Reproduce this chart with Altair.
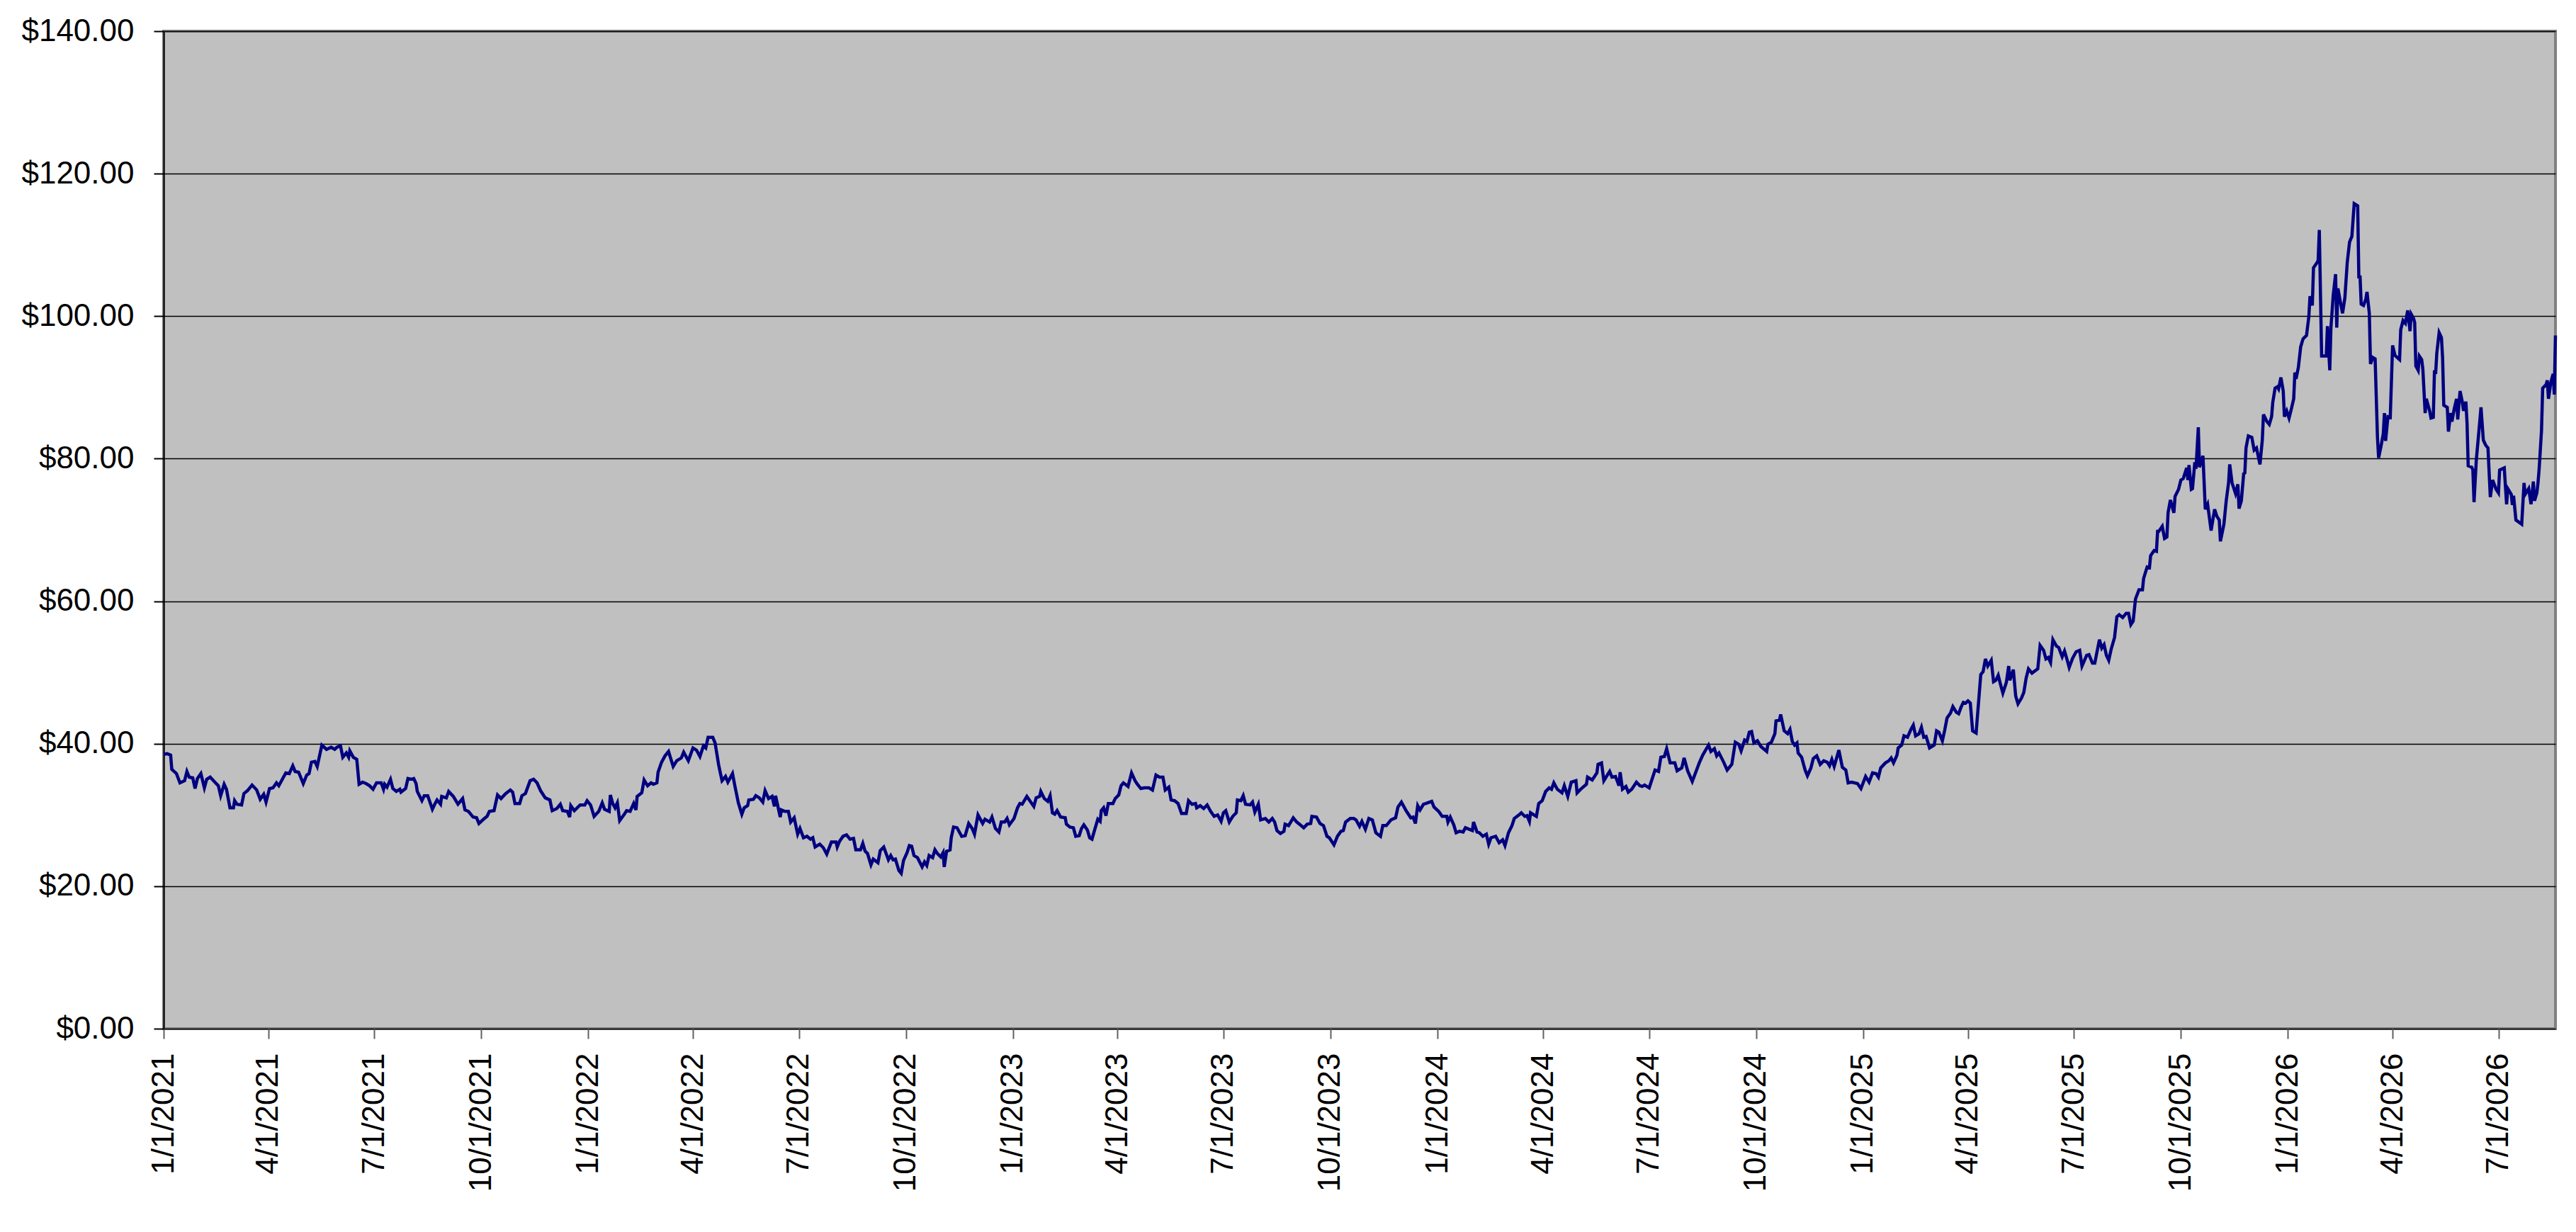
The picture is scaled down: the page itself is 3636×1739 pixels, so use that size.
import altair as alt
import pandas as pd

START = "2021-01-01"
END = "2026-08-19"

# day offsets from START and closing prices
days_2021 = [0, 3, 6, 7, 11, 14, 18, 20, 22, 25, 27, 29, 32, 35, 37, 40, 44, 47, 49, 52, 54, 57, 60, 61, 63, 67, 69, 72, 76, 80, 83, 86, 88, 91, 94, 97, 99, 101, 105, 108, 111, 113, 116, 120, 123, 125, 127, 130, 132, 136, 140, 144, 147, 149, 152, 154, 157, 159, 160, 163, 166, 168, 171, 174, 177, 180, 183, 187, 189, 190, 192, 195, 197, 200, 203, 204, 208, 210, 213, 215, 217, 218, 222, 224, 227, 231, 233, 235, 238, 239, 243, 245, 249, 253, 257, 259, 262, 266, 269, 271, 275, 278, 280, 284, 287, 290, 294, 298, 300, 302, 306, 308, 311, 315, 318, 321, 324, 328, 332, 334, 338, 341, 343, 347, 349, 350, 353, 358, 362, 364]
vals_2021 = [38.5, 38.6, 38.4, 36.4, 35.8, 34.5, 34.8, 36.1, 35.3, 35.2, 33.7, 35.1, 35.8, 33.8, 35.0, 35.3, 34.6, 34.1, 32.7, 34.3, 33.6, 31.0, 31.0, 32.0, 31.5, 31.4, 33.0, 33.4, 34.2, 33.5, 32.2, 32.9, 31.8, 33.7, 33.8, 34.5, 34.1, 34.7, 35.9, 35.8, 36.9, 36.1, 36.0, 34.4, 35.6, 35.8, 37.4, 37.5, 36.8, 39.8, 39.2, 39.5, 39.2, 39.5, 39.7, 38.1, 38.7, 38.1, 39.0, 38.1, 37.8, 34.3, 34.6, 34.4, 34.1, 33.6, 34.5, 34.5, 33.6, 34.3, 33.9, 35.0, 33.7, 33.3, 33.6, 33.2, 33.7, 35.1, 35.0, 35.1, 34.4, 33.3, 32.0, 32.7, 32.7, 30.8, 31.5, 32.1, 31.5, 32.6, 32.4, 33.3, 32.6, 31.5, 32.3, 30.7, 30.5, 29.7, 29.6, 28.8, 29.4, 29.8, 30.5, 30.6, 32.8, 32.3, 33.0, 33.5, 33.2, 31.6, 31.6, 32.7, 33.0, 34.8, 35.0, 34.5, 33.4, 32.4, 32.1, 30.6, 30.9, 31.5, 30.6, 30.5, 29.7, 31.3, 30.6, 31.4, 31.4, 32.0]

days_2022 = [367, 370, 374, 377, 379, 383, 384, 386, 388, 390, 392, 396, 398, 401, 404, 406, 407, 411, 413, 416, 419, 421, 424, 425, 428, 431, 434, 438, 441, 445, 447, 451, 455, 458, 461, 464, 466, 468, 472, 474, 477, 478, 480, 483, 485, 489, 491, 494, 497, 499, 502, 503, 507, 509, 512, 515, 517, 520, 523, 525, 526, 530, 531, 534, 537, 539, 542, 545, 547, 550, 553, 556, 558, 560, 564, 567, 570, 574, 578, 579, 581, 584, 587, 590, 593, 595, 599, 601, 603, 605, 608, 610, 614, 616, 619, 623, 625, 627, 629, 632, 634, 636, 639, 641, 643, 645, 648, 652, 654, 656, 658, 661, 663, 665, 668, 670, 671, 673, 676, 677, 679, 682, 686, 689, 692, 695, 697, 700, 704, 706, 710, 712, 715, 718, 720, 723, 725, 727]
vals_2022 = [31.4, 29.8, 30.5, 31.7, 30.8, 30.5, 32.8, 31.6, 31.0, 31.7, 29.2, 30.1, 30.6, 30.5, 31.6, 30.7, 32.6, 33.1, 34.9, 34.1, 34.5, 34.3, 34.5, 36.0, 37.4, 38.3, 38.9, 36.8, 37.6, 38.0, 38.8, 37.6, 39.4, 39.1, 38.2, 39.7, 39.4, 40.9, 40.9, 40.1, 37.1, 36.3, 34.8, 35.4, 34.6, 35.8, 34.1, 31.7, 30.1, 31.0, 31.3, 32.1, 32.2, 32.7, 32.4, 31.8, 33.4, 32.3, 32.6, 31.2, 32.7, 29.7, 30.7, 30.5, 30.5, 29.0, 29.6, 27.3, 28.1, 26.8, 27.0, 26.6, 26.8, 25.5, 25.9, 25.4, 24.5, 26.2, 26.2, 25.5, 26.3, 27.0, 27.2, 26.6, 26.7, 25.1, 25.1, 26.0, 24.9, 24.6, 23.0, 23.8, 23.3, 25.0, 25.5, 23.7, 24.3, 23.7, 23.8, 22.2, 21.8, 23.6, 24.7, 25.7, 25.6, 24.3, 24.0, 22.7, 23.4, 22.9, 24.3, 24.0, 25.1, 24.6, 24.1, 24.7, 22.7, 24.9, 25.1, 26.8, 28.3, 28.2, 27.0, 27.1, 28.8, 28.1, 27.3, 30.0, 28.8, 29.4, 29.0, 29.7, 28.1, 27.6, 29.0, 29.0, 29.5, 28.6]

days_2023 = [731, 734, 736, 738, 742, 745, 748, 750, 753, 754, 757, 760, 762, 764, 766, 768, 771, 775, 776, 779, 782, 784, 787, 789, 791, 794, 796, 798, 801, 803, 805, 806, 808, 810, 812, 816, 818, 821, 823, 825, 829, 832, 835, 837, 840, 843, 847, 850, 853, 856, 859, 861, 864, 866, 869, 872, 875, 879, 881, 884, 887, 888, 891, 894, 897, 900, 903, 906, 909, 911, 913, 916, 919, 922, 923, 926, 928, 930, 934, 936, 938, 941, 943, 947, 950, 953, 955, 957, 960, 963, 964, 967, 971, 974, 977, 980, 983, 986, 987, 991, 994, 997, 1000, 1002, 1006, 1009, 1012, 1014, 1016, 1020, 1023, 1025, 1028, 1030, 1033, 1036, 1039, 1042, 1046, 1048, 1051, 1055, 1059, 1061, 1064, 1068, 1072, 1074, 1076, 1078, 1080, 1083, 1085, 1090, 1092]
vals_2023 = [29.5, 31.0, 31.6, 31.5, 32.6, 31.9, 31.2, 32.4, 32.6, 33.3, 32.3, 31.9, 32.7, 30.3, 30.1, 30.6, 29.7, 29.6, 28.7, 28.3, 28.2, 27.0, 27.1, 28.1, 28.6, 27.9, 26.8, 26.6, 28.3, 29.4, 29.1, 30.6, 31.0, 29.9, 31.6, 31.6, 32.3, 32.8, 34.1, 34.5, 34.0, 35.9, 34.8, 34.3, 33.7, 33.8, 33.8, 33.5, 35.6, 35.3, 35.3, 33.5, 33.9, 32.1, 32.0, 31.6, 30.2, 30.2, 32.0, 31.5, 31.6, 31.0, 31.3, 30.9, 31.4, 30.5, 29.8, 30.0, 29.1, 30.3, 30.6, 29.0, 29.8, 30.3, 32.1, 32.0, 32.7, 31.5, 31.4, 31.8, 30.4, 31.5, 29.3, 29.5, 29.0, 29.5, 29.0, 27.8, 27.4, 27.7, 28.7, 28.5, 29.6, 29.0, 28.6, 28.2, 28.7, 28.8, 29.8, 29.7, 28.8, 28.5, 27.0, 26.8, 25.8, 27.0, 27.7, 27.8, 29.0, 29.5, 29.5, 29.3, 28.4, 29.1, 28.0, 29.5, 29.3, 27.5, 27.0, 28.5, 28.5, 29.3, 29.6, 31.1, 31.8, 30.6, 29.6, 29.7, 28.8, 31.3, 30.7, 31.5, 31.6, 31.9, 31.1]

days_2024 = [1096, 1099, 1103, 1104, 1106, 1109, 1111, 1114, 1117, 1119, 1122, 1125, 1126, 1129, 1131, 1134, 1137, 1139, 1141, 1145, 1148, 1151, 1153, 1156, 1159, 1161, 1165, 1167, 1170, 1172, 1174, 1175, 1180, 1182, 1185, 1188, 1191, 1193, 1195, 1198, 1202, 1204, 1207, 1210, 1214, 1215, 1218, 1223, 1224, 1228, 1232, 1233, 1236, 1238, 1241, 1243, 1245, 1248, 1251, 1252, 1254, 1257, 1259, 1262, 1266, 1269, 1271, 1273, 1277, 1280, 1282, 1285, 1287, 1290, 1292, 1295, 1299, 1301, 1305, 1307, 1310, 1314, 1317, 1320, 1323, 1328, 1330, 1333, 1335, 1337, 1341, 1344, 1348, 1351, 1354, 1356, 1359, 1361, 1363, 1365, 1367, 1370, 1373, 1378, 1379, 1382, 1385, 1386, 1389, 1390, 1393, 1396, 1398, 1400, 1402, 1404, 1405, 1408, 1411, 1413, 1416, 1418, 1421, 1424, 1427, 1430, 1432, 1434, 1436, 1440, 1443, 1446, 1448, 1451, 1456, 1459]
vals_2024 = [30.5, 29.8, 29.8, 29.0, 29.7, 28.6, 27.5, 27.7, 27.6, 28.2, 28.0, 27.8, 29.0, 27.6, 27.5, 27.0, 27.3, 25.9, 26.8, 27.0, 26.1, 26.5, 25.7, 27.5, 28.5, 29.5, 30.0, 30.3, 29.8, 29.9, 29.1, 30.3, 29.8, 31.6, 32.0, 33.3, 33.8, 33.6, 34.5, 33.6, 33.1, 34.1, 32.6, 34.6, 34.8, 33.1, 33.6, 34.3, 35.3, 34.9, 35.9, 37.1, 37.3, 34.8, 35.6, 36.1, 35.3, 35.4, 34.1, 36.0, 33.6, 34.0, 33.2, 33.6, 34.6, 34.1, 34.0, 34.2, 33.8, 35.3, 36.3, 36.1, 38.1, 38.2, 39.3, 37.3, 37.3, 36.2, 36.6, 38.0, 36.2, 34.7, 36.0, 37.3, 38.4, 39.8, 38.9, 39.3, 38.3, 38.7, 37.4, 36.3, 37.1, 40.2, 39.9, 39.0, 40.5, 40.3, 41.6, 41.7, 40.1, 40.4, 39.6, 38.9, 39.9, 40.2, 41.4, 43.2, 43.3, 44.1, 41.8, 41.4, 42.0, 40.3, 39.8, 40.1, 38.7, 38.1, 36.3, 35.5, 36.6, 37.9, 38.3, 37.1, 37.6, 37.4, 36.9, 37.8, 36.8, 39.1, 36.7, 36.3, 34.5, 34.6, 34.4, 33.7]

days_2025 = [1463, 1466, 1469, 1472, 1474, 1476, 1480, 1483, 1485, 1487, 1490, 1491, 1494, 1496, 1499, 1502, 1504, 1506, 1509, 1511, 1513, 1515, 1518, 1522, 1524, 1526, 1529, 1531, 1533, 1536, 1538, 1541, 1543, 1545, 1547, 1549, 1551, 1553, 1555, 1558, 1562, 1564, 1566, 1568, 1571, 1573, 1575, 1577, 1579, 1581, 1584, 1586, 1587, 1590, 1592, 1594, 1597, 1599, 1601, 1603, 1606, 1611, 1613, 1616, 1618, 1620, 1622, 1624, 1627, 1629, 1632, 1634, 1636, 1638, 1641, 1644, 1647, 1649, 1653, 1655, 1658, 1660, 1664, 1666, 1668, 1670, 1672, 1674, 1677, 1679, 1681, 1684, 1687, 1689, 1691, 1693, 1695, 1698, 1701, 1702, 1705, 1707, 1708, 1711, 1713, 1714, 1715, 1718, 1720, 1722, 1723, 1725, 1728, 1729, 1732, 1734, 1736, 1739, 1740, 1741, 1743, 1744, 1746, 1747, 1749, 1750, 1753, 1755, 1757, 1760, 1763, 1765, 1767, 1768, 1771, 1773, 1775, 1776, 1778, 1781, 1783, 1784, 1786, 1788, 1789, 1790, 1792, 1795, 1797, 1799, 1802, 1804, 1805, 1808, 1810, 1812, 1813, 1815, 1817, 1818, 1820, 1822, 1823, 1825]
vals_2025 = [35.4, 34.6, 35.9, 35.8, 35.3, 36.6, 37.3, 37.6, 38.0, 37.3, 38.4, 39.4, 39.8, 41.1, 40.9, 42.0, 42.6, 41.1, 41.4, 42.3, 40.9, 41.0, 39.4, 39.8, 41.8, 41.6, 40.4, 41.9, 43.6, 44.3, 45.2, 44.4, 44.2, 45.1, 45.8, 45.7, 46.0, 45.7, 41.8, 41.5, 49.7, 50.1, 51.9, 50.9, 51.7, 48.7, 48.9, 49.6, 48.3, 47.1, 48.6, 50.9, 48.9, 50.4, 46.7, 45.6, 46.4, 47.2, 49.2, 50.5, 49.9, 50.5, 53.8, 53.1, 51.9, 52.1, 51.4, 54.6, 53.7, 53.5, 52.2, 53.0, 51.9, 50.7, 52.0, 52.9, 53.1, 50.9, 52.4, 52.5, 51.3, 51.3, 54.6, 53.4, 53.9, 52.4, 51.7, 53.2, 54.9, 57.8, 58.1, 57.7, 58.3, 58.3, 56.7, 57.2, 60.3, 61.6, 61.6, 63.2, 64.8, 64.7, 66.4, 67.1, 67.0, 69.8, 69.8, 70.5, 68.8, 69.0, 72.4, 74.2, 72.4, 74.7, 75.7, 77.0, 77.2, 78.7, 77.0, 79.1, 75.7, 75.8, 79.5, 78.6, 84.4, 78.8, 80.4, 72.9, 73.6, 69.9, 72.9, 71.9, 71.4, 68.4, 70.8, 74.1, 76.6, 79.2, 76.6, 75.1, 76.4, 73.0, 74.1, 77.9, 78.0, 81.5, 83.2, 83.0, 81.2, 81.5, 79.2, 82.6, 86.2, 85.2, 84.8, 85.9, 87.9, 89.9, 90.1, 89.8, 91.4, 89.5, 85.9, 86.7]

days_2026 = [1827, 1829, 1831, 1832, 1833, 1835, 1837, 1839, 1842, 1844, 1845, 1847, 1848, 1851, 1852, 1853, 1855, 1857, 1859, 1860, 1862, 1863, 1865, 1867, 1868, 1869, 1871, 1873, 1875, 1877, 1879, 1881, 1883, 1886, 1887, 1888, 1889, 1891, 1893, 1894, 1896, 1897, 1899, 1901, 1903, 1904, 1906, 1908, 1909, 1910, 1912, 1914, 1916, 1918, 1922, 1923, 1925, 1927, 1929, 1931, 1932, 1934, 1935, 1936, 1938, 1939, 1941, 1942, 1944, 1945, 1948, 1949, 1951, 1952, 1953, 1954, 1956, 1958, 1959, 1960, 1963, 1964, 1966, 1967, 1969, 1971, 1972, 1974, 1976, 1977, 1979, 1980, 1981, 1984, 1985, 1986, 1988, 1990, 1992, 1994, 1996, 1998, 2000, 2002, 2005, 2007, 2008, 2012, 2014, 2015, 2018, 2019, 2020, 2022, 2027, 2029, 2030, 2033, 2035, 2037, 2038, 2040, 2041, 2042, 2044, 2045, 2048, 2049, 2050, 2052, 2054, 2055, 2056]
vals_2026 = [85.7, 87.0, 88.4, 92.1, 91.2, 92.8, 95.7, 96.8, 97.3, 99.9, 102.8, 101.5, 106.8, 107.5, 107.8, 112.1, 94.4, 94.4, 94.4, 98.6, 92.4, 98.4, 103.0, 105.9, 98.4, 103.9, 102.1, 100.4, 102.6, 107.5, 110.4, 111.2, 115.8, 115.5, 105.3, 105.7, 101.7, 101.5, 102.4, 103.4, 100.4, 93.3, 94.2, 94.0, 83.0, 80.1, 81.7, 83.5, 86.4, 82.5, 85.9, 85.8, 95.9, 94.5, 93.9, 98.1, 99.4, 99.0, 100.8, 97.9, 100.3, 99.7, 99.1, 93.0, 92.4, 94.4, 93.9, 92.6, 86.4, 88.4, 86.6, 85.7, 85.8, 92.4, 91.9, 94.8, 97.7, 97.0, 94.1, 87.5, 87.2, 83.8, 86.4, 85.2, 87.0, 88.4, 85.5, 89.5, 87.9, 86.7, 88.0, 85.0, 79.0, 78.8, 78.4, 73.9, 79.9, 83.5, 87.2, 82.6, 81.9, 81.5, 74.6, 77.0, 75.7, 75.2, 78.4, 78.7, 73.6, 75.8, 75.0, 73.5, 74.8, 71.4, 70.8, 76.6, 75.0, 75.8, 73.6, 76.8, 74.1, 75.2, 76.6, 78.6, 83.9, 89.9, 90.4, 91.0, 88.4, 90.7, 91.9, 89.0, 97.3]

tick_dates = ["2021-01-01", "2021-04-01", "2021-07-01", "2021-10-01",
              "2022-01-01", "2022-04-01", "2022-07-01", "2022-10-01",
              "2023-01-01", "2023-04-01", "2023-07-01", "2023-10-01",
              "2024-01-01", "2024-04-01", "2024-07-01", "2024-10-01",
              "2025-01-01", "2025-04-01", "2025-07-01", "2025-10-01",
              "2026-01-01", "2026-04-01", "2026-07-01"]
y_ticks = [0, 20, 40, 60, 80, 100, 120, 140]

EPOCH = pd.Timestamp("1970-01-01")


def ms(ts):
    return int((pd.Timestamp(ts) - EPOCH) / pd.Timedelta(milliseconds=1))


days = days_2021 + days_2022 + days_2023 + days_2024 + days_2025 + days_2026
vals = vals_2021 + vals_2022 + vals_2023 + vals_2024 + vals_2025 + vals_2026
start = pd.Timestamp(START)
df = pd.DataFrame({
    "t": [ms(start + pd.Timedelta(days=d)) for d in days],
    "price": vals,
})

FONT = "Liberation Sans"

chart = alt.Chart(df).mark_line(color="#000080", strokeWidth=4.5).encode(
    x=alt.X("t:T",
            scale=alt.Scale(type="utc", domain=[ms(START), ms(END)], nice=False),
            axis=alt.Axis(values=[ms(d) for d in tick_dates], format="%-m/%-d/%Y",
                          title=None, grid=False, domain=False,
                          ticks=True, tickSize=14, tickWidth=2, tickColor="#606060",
                          labelAngle=270, labelAlign="right", labelBaseline="middle",
                          labelPadding=20, labelFontSize=44, labelFont=FONT,
                          labelColor="black", labelOverlap=False, labelFlush=False,
                          labelLimit=600)),
    y=alt.Y("price:Q",
            scale=alt.Scale(domain=[0, 140], nice=False, zero=True),
            axis=alt.Axis(values=y_ticks, format="$.2f", title=None,
                          grid=True, gridColor="black", gridWidth=1.5,
                          domain=True, domainColor="black", domainWidth=2,
                          ticks=True, tickSize=14, tickWidth=2, tickColor="black",
                          labelPadding=28, labelFontSize=44, labelFont=FONT,
                          labelColor="black", labelOverlap=False, labelFlush=False,
                          labelLimit=600)),
).properties(
    width=3376,
    height=1408,
    autosize=alt.AutoSizeParams(type="none"),
    padding={"left": 223, "top": 36, "right": 20, "bottom": 270},
).configure_view(
    fill="#C0C0C0", stroke="#808080", strokeWidth=4
)

chart.save("out.html", embed_options={"renderer": "svg", "actions": False})
